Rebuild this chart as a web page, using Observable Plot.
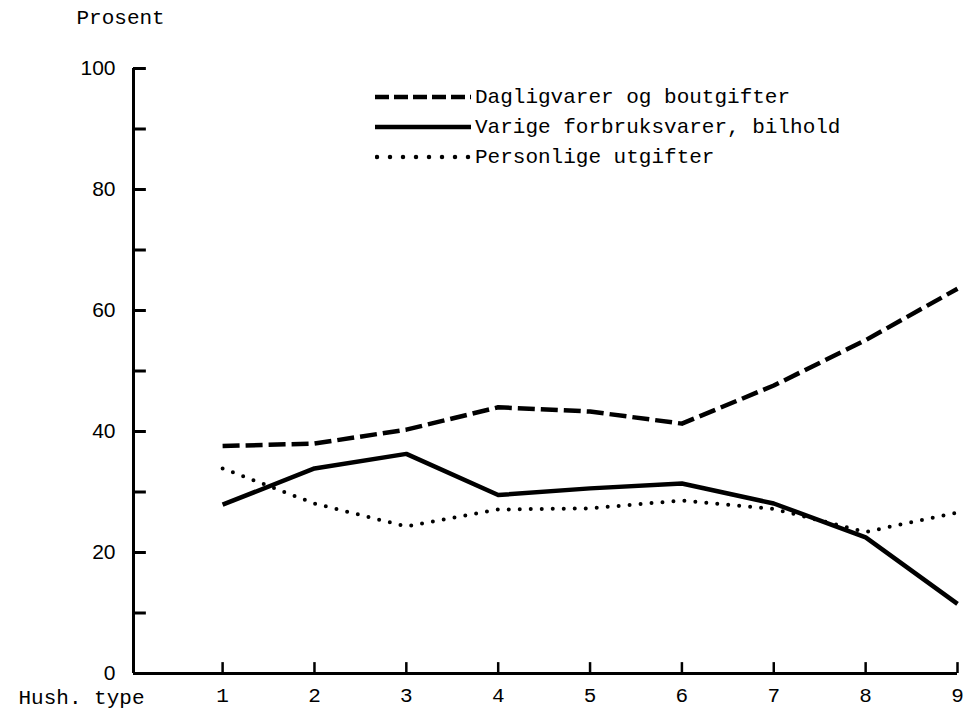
<!DOCTYPE html>
<html>
<head>
<meta charset="utf-8">
<script src="https://cdn.jsdelivr.net/npm/d3@7"></script>
<script src="https://cdn.jsdelivr.net/npm/@observablehq/plot@0.6"></script>
<style>
  html, body { margin: 0; padding: 0; background: #fff; }
  #wrap { position: relative; width: 965px; height: 723px; }
  #legend { position: absolute; left: 375px; top: 82px; font-family: "Liberation Mono", monospace; font-size: 21px; color: #000; }
  .item { display: flex; align-items: center; height: 30px; }
  .item svg { margin-right: 4px; }
</style>
</head>
<body>
<div id="wrap"></div>
<script>
// Data
const hushTypes = [1, 2, 3, 4, 5, 6, 7, 8, 9];
const dagligvarer = [37.6, 38.0, 40.3, 44.0, 43.3, 41.3, 47.6, 55.1, 63.6];
const varige = [27.9, 33.9, 36.3, 29.5, 30.6, 31.4, 28.1, 22.5, 11.5];
const personlige = [33.9, 28.1, 24.3, 27.1, 27.3, 28.6, 27.2, 23.4, 26.6];
const seriesNames = ["Dagligvarer og boutgifter", "Varige forbruksvarer, bilhold", "Personlige utgifter"];
const yLabelTicks = [0, 20, 40, 60, 80, 100];
const yMarkTicks = [0, 10, 20, 30, 40, 50, 60, 70, 80, 90, 100];
const yTitle = "Prosent";
const xTitle = "Hush. type";

const seriesValues = [dagligvarer, varige, personlige];
const dashes = ["17 6", null, "0 11"];
const rows = seriesNames.flatMap((name, i) =>
  hushTypes.map((h, j) => ({series: name, x: h, y: seriesValues[i][j]})));

const xMin = 0.03, xMax = 9;
const mono = "Liberation Mono, monospace";

const lineMarks = seriesNames.map((name, i) =>
  Plot.line(rows.filter(d => d.series === name), {
    x: "x", y: "y", stroke: "#000", strokeWidth: i === 2 ? 4 : 4.5,
    strokeDasharray: dashes[i] ?? undefined,
    strokeLinecap: i === 2 ? "round" : "butt",
    strokeLinejoin: "round"
  }));

const chart = Plot.plot({
  width: 965,
  height: 723,
  marginLeft: 133,
  marginTop: 68,
  marginBottom: 50,
  marginRight: 8,
  style: {fontFamily: mono, fontSize: "21px", color: "#000", background: "#fff"},
  x: {domain: [xMin, xMax], axis: null},
  y: {domain: [0, 100], axis: null},
  marks: [
    // axis lines
    Plot.ruleY([0], {x1: xMin, x2: xMax, stroke: "#000", strokeWidth: 3}),
    Plot.ruleX([xMin], {y1: 0, y2: 100, stroke: "#000", strokeWidth: 3}),
    // y ticks (inward)
    Plot.ruleY(yMarkTicks, {y: d => d, x1: xMin, x2: xMin + 0.14, stroke: "#000", strokeWidth: 3}),
    // x ticks (upward)
    Plot.ruleX(hushTypes, {x: d => d, y1: 0, y2: 1.8, stroke: "#000", strokeWidth: 2.5}),
    // y labels
    Plot.axisY({ticks: yLabelTicks, tickSize: 0, tickPadding: 18, fontSize: 21,
      fontFamily: "Liberation Sans, sans-serif", label: null, anchor: "left"}),
    // x labels
    Plot.axisX({ticks: hushTypes, tickSize: 0, tickPadding: 14, fontSize: 21,
      fontFamily: mono, label: null, anchor: "bottom", tickFormat: d => String(d)}),
    ...lineMarks,
    // titles
    Plot.text([yTitle], {frameAnchor: "top-left", text: d => d, dx: -57, dy: -51,
      textAnchor: "start", lineAnchor: "middle", fontSize: 21, fontFamily: mono, fill: "#000"}),
    Plot.text([xTitle], {frameAnchor: "bottom-left", text: d => d, dx: -115, dy: 24,
      textAnchor: "start", lineAnchor: "middle", fontSize: 21, fontFamily: mono, fill: "#000"})
  ]
});

const wrap = document.getElementById("wrap");
wrap.appendChild(chart);

// Legend
const legend = document.createElement("div");
legend.id = "legend";
const legendDash = ["14 5", null, "0 13"];
seriesNames.forEach((name, i) => {
  const item = document.createElement("div");
  item.className = "item";
  const cap = i === 2 ? "round" : "butt";
  const dash = legendDash[i] ? `stroke-dasharray="${legendDash[i]}"` : "";
  item.innerHTML = `<svg width="96" height="10"><line x1="${i===2?2:0}" y1="5" x2="96" y2="5" stroke="#000" stroke-width="4.5" stroke-linecap="${cap}" ${dash}/></svg><span>${name}</span>`;
  legend.appendChild(item);
});
wrap.appendChild(legend);
</script>
</body>
</html>
